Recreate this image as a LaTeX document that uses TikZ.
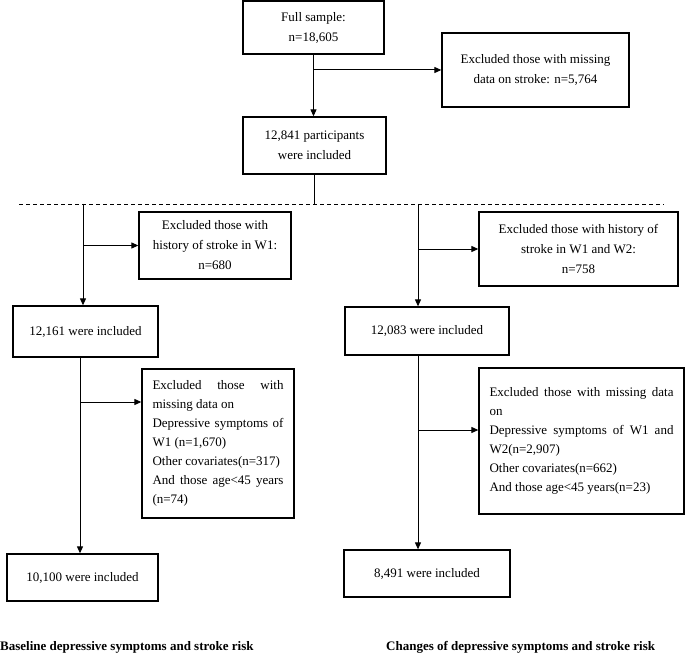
\documentclass[tikz,border=0pt]{standalone}
\usepackage{fontspec}
\setmainfont{Liberation Serif}
\usetikzlibrary{arrows.meta}
\hyphenpenalty=10000
\tolerance=9999

\begin{document}
\begin{tikzpicture}[x=1pt, y=-1pt,
    box/.style={draw, line width=1.3pt, align=center, inner sep=0pt, font=\fontsize{13}{20}\selectfont},
    listbox/.style={draw, line width=1.3pt, align=justify, inner xsep=10.5pt, inner ysep=0pt, font=\fontsize{13}{19}\selectfont},
    arr/.style={line width=1pt, -{Triangle[length=7pt,width=6pt]}},
    caption/.style={anchor=west, inner sep=0pt, font=\fontsize{13}{16}\selectfont\bfseries}]
  \useasboundingbox (0,0) rectangle (685,655);

  % Whole sample at the top
  \node[box, minimum width=141pt, minimum height=53pt] (full) at (313.5,27.5) {Full sample:\\n=18,605};
  \node[box, minimum width=187pt, minimum height=74pt] (excl1) at (535.5,70) {Excluded those with missing\\data on stroke: n=5,764};
  \node[box, minimum width=143pt, minimum height=57pt] (incl) at (314.5,145.5) {12,841 participants\\were included};
  \draw[arr] (full.south) -- (full.south |- incl.north);
  \draw[arr] (full.south |- excl1.west) -- (excl1.west);

  % Split into the two analyses
  \coordinate (dashL) at (19,204);
  \coordinate (dashR) at (664,204);
  \draw[line width=0.8pt, dash pattern=on 4pt off 3pt] (dashL) -- (dashR);
  \draw[line width=1pt] (incl.south) -- (incl.south |- dashL);

  % Left branch - baseline
  \node[box, minimum width=152pt, minimum height=67pt] (exW1) at (215,245.5) {Excluded those with\\history of stroke in W1:\\n=680};
  \node[box, minimum width=145pt, minimum height=51pt] (inL) at (85.5,331.5) {12,161 were included};
  \node[listbox, text width=131pt, minimum height=149pt] (exL2) at (218,443.5) {Excluded those with missing data on\\Depressive symptoms of W1 (n=1,670)\\Other covariates(n=317)\\And those age<45 years (n=74)};
  \node[box, minimum width=151pt, minimum height=47pt] (finL) at (82.5,577.5) {10,100 were included};
  \coordinate (topL) at (83,204);
  \coordinate (brL) at (80,402);
  \draw[arr] (topL) -- (topL |- inL.north);
  \draw[arr] (topL |- exW1.west) -- (exW1.west);
  \draw[arr] (brL |- inL.south) -- (brL |- finL.north);
  \draw[arr] (brL) -- (brL -| exL2.west);

  % Right branch - changes
  \node[box, minimum width=199pt, minimum height=74pt] (exW12) at (578.5,249) {Excluded those with history of\\stroke in W1 and W2:\\n=758};
  \node[box, minimum width=164pt, minimum height=48pt] (inR) at (427,331) {12,083 were included};
  \node[listbox, text width=184pt, minimum height=146pt] (exR2) at (581.5,441) {Excluded those with missing data on\\Depressive symptoms of W1 and W2(n=2,907)\\Other covariates(n=662)\\And those age<45 years(n=23)};
  \node[box, minimum width=166pt, minimum height=47pt] (finR) at (427,573.5) {8,491 were included};
  \coordinate (topR) at (418,204);
  \coordinate (brR) at (418,430);
  \draw[arr] (topR) -- (topR |- inR.north);
  \draw[arr] (topR |- exW12.west) -- (exW12.west);
  \draw[arr] (brR |- inR.south) -- (brR |- finR.north);
  \draw[arr] (brR) -- (brR -| exR2.west);

  % Captions
  \node[caption] (capL) at (0,647) {Baseline depressive symptoms and stroke risk};
  \node[caption] (capR) at (386,647) {Changes of depressive symptoms and stroke risk};
\end{tikzpicture}
\end{document}
